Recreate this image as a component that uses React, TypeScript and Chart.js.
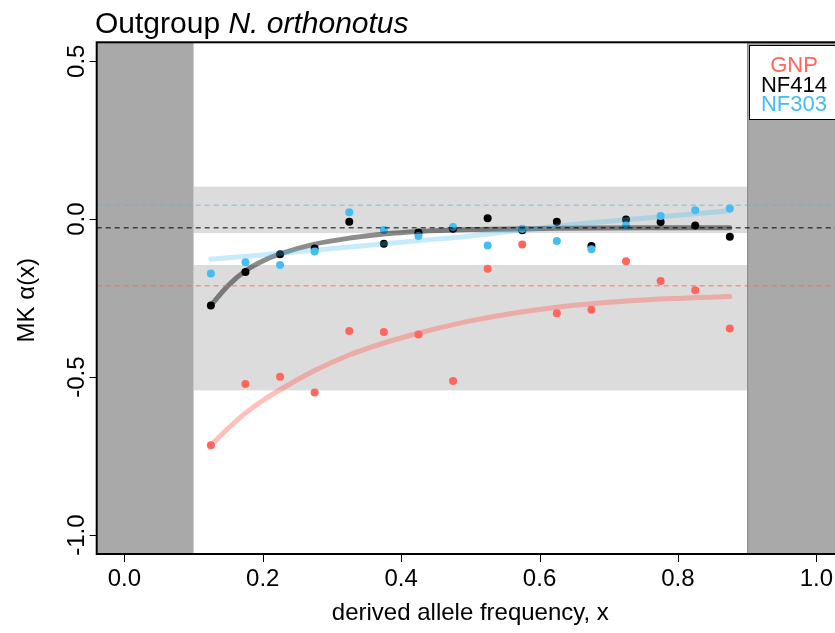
import React, { useEffect, useRef } from "react";
import { Chart, registerables } from "chart.js";

Chart.register(...registerables);

// ---------- data ----------
const xFreq = [0.125, 0.175, 0.225, 0.275, 0.325, 0.375, 0.425, 0.475, 0.525, 0.575, 0.625, 0.675, 0.725, 0.775, 0.825, 0.875];
const gnpAlpha = [-0.716, -0.522, -0.499, -0.549, -0.354, -0.357, -0.365, -0.512, -0.157, -0.080, -0.298, -0.287, -0.133, -0.196, -0.225, -0.346];
const nf414Alpha = [-0.273, -0.167, -0.111, -0.093, -0.008, -0.078, -0.042, -0.030, 0.003, -0.035, -0.008, -0.085, -0.001, -0.009, -0.020, -0.056];
const nf303Alpha = [-0.172, -0.136, -0.145, -0.102, 0.022, -0.034, -0.053, -0.025, -0.083, -0.030, -0.069, -0.095, -0.020, 0.010, 0.028, 0.034];

const fitX = [0.125, 0.15, 0.175, 0.2, 0.225, 0.275, 0.325, 0.375, 0.425, 0.5, 0.625, 0.75, 0.875];
const gnpFit = [-0.716, -0.662, -0.614, -0.574, -0.540, -0.479, -0.430, -0.392, -0.361, -0.322, -0.279, -0.256, -0.245];
const nf414Fit = [-0.273, -0.210, -0.163, -0.132, -0.110, -0.079, -0.060, -0.047, -0.039, -0.033, -0.029, -0.027, -0.027];
const nf303Fit = [-0.127, -0.122, -0.118, -0.113, -0.108, -0.098, -0.088, -0.078, -0.068, -0.053, -0.022, 0.003, 0.027];

// asymptotic alpha (dashed lines)
const gnpAsym = -0.211;
const nf414Asym = -0.027;
const nf303Asym = 0.044;

// confidence bands [low, high]
const bandLow = [-0.044, -0.542];
const bandHigh = [0.103, -0.145];

// excluded frequency ranges
const cutLow = 0.1;
const cutHigh = 0.9;

const xTicks = [0, 0.2, 0.4, 0.6, 0.8, 1.0];
const xTickLabels = ["0.0", "0.2", "0.4", "0.6", "0.8", "1.0"];
const yTicks = [0.5, 0.0, -0.5, -1.0];
const yTickLabels = ["0.5", "0.0", "-0.5", "-1.0"];

const seriesNames = ["GNP", "NF414", "NF303"];

const X_MIN = -0.04;
const X_MAX = 1.04;
const Y_MIN = -1.06;
const Y_MAX = 0.56;

// ---------- styles ----------
const FONT = "'Liberation Sans', Arial, Helvetica, sans-serif";
const RED = "#ff665e";
const BLACK = "#000000";
const BLUE = "#45bdf3";
const seriesColors = [RED, BLACK, BLUE];

const pts = (xs: number[], ys: number[]) => xs.map((x, i) => ({ x, y: ys[i] }));

const decorPlugin = {
  id: "decor",
  beforeDatasetsDraw(chart: any) {
    const { ctx, chartArea: ca, scales } = chart;
    const x = scales.x;
    const y = scales.y;
    ctx.save();
    ctx.beginPath();
    ctx.rect(ca.left, ca.top, ca.right - ca.left, ca.bottom - ca.top);
    ctx.clip();
    // light bands
    ctx.fillStyle = "#dcdcdc";
    for (let i = 0; i < bandLow.length; i++) {
      const x0 = x.getPixelForValue(cutLow);
      const x1 = x.getPixelForValue(cutHigh);
      const y0 = y.getPixelForValue(bandHigh[i]);
      const y1 = y.getPixelForValue(bandLow[i]);
      ctx.fillRect(x0, y0, x1 - x0, y1 - y0);
    }
    // excluded regions
    ctx.fillStyle = "#a9a9a9";
    ctx.strokeStyle = "#8a8a8a";
    ctx.lineWidth = 1;
    const l0 = x.getPixelForValue(X_MIN);
    const l1 = x.getPixelForValue(cutLow);
    const r0 = x.getPixelForValue(cutHigh);
    const r1 = x.getPixelForValue(X_MAX);
    ctx.fillRect(l0, ca.top, l1 - l0, ca.bottom - ca.top);
    ctx.fillRect(r0, ca.top, r1 - r0, ca.bottom - ca.top);
    ctx.beginPath();
    ctx.moveTo(r0 + 0.5, ca.top);
    ctx.lineTo(r0 + 0.5, ca.bottom);
    ctx.stroke();
    ctx.restore();
  },
  afterDraw(chart: any) {
    const { ctx, chartArea: ca, scales } = chart;
    const x = scales.x;
    const y = scales.y;
    ctx.save();
    // box
    ctx.strokeStyle = "#000";
    ctx.lineWidth = 2;
    ctx.strokeRect(ca.left, ca.top, ca.right - ca.left, ca.bottom - ca.top);

    // ticks
    ctx.lineWidth = 1;
    ctx.fillStyle = "#000";
    ctx.font = `24px ${FONT}`;
    ctx.textAlign = "center";
    ctx.textBaseline = "alphabetic";
    xTicks.forEach((v, i) => {
      const px = Math.round(x.getPixelForValue(v)) + 0.5;
      ctx.beginPath();
      ctx.moveTo(px, ca.bottom);
      ctx.lineTo(px, ca.bottom + 8);
      ctx.stroke();
      ctx.fillText(xTickLabels[i], x.getPixelForValue(v), 586);
    });
    yTicks.forEach((v, i) => {
      const py = Math.round(y.getPixelForValue(v)) + 0.5;
      ctx.beginPath();
      ctx.moveTo(ca.left, py);
      ctx.lineTo(ca.left - 7, py);
      ctx.stroke();
      ctx.save();
      ctx.translate(83.5, y.getPixelForValue(v));
      ctx.rotate(-Math.PI / 2);
      ctx.fillText(yTickLabels[i], 0, 0);
      ctx.restore();
    });

    // axis titles
    ctx.fillText("derived allele frequency, x", (ca.left + ca.right) / 2, 620);
    ctx.save();
    ctx.translate(34, (ca.top + ca.bottom) / 2 + 2);
    ctx.rotate(-Math.PI / 2);
    ctx.fillText("MK α(x)", 0, 0);
    ctx.restore();

    // title
    ctx.textAlign = "left";
    ctx.font = `30px ${FONT}`;
    const part1 = "Outgroup ";
    ctx.fillText(part1, 95, 33);
    const w1 = ctx.measureText(part1).width;
    ctx.font = `italic 30px ${FONT}`;
    ctx.fillText("N. orthonotus", 95 + w1, 33);

    // legend
    ctx.fillStyle = "#fff";
    ctx.fillRect(749, 45, 92, 74);
    ctx.strokeStyle = "#000";
    ctx.lineWidth = 1;
    ctx.strokeRect(749.5, 45.5, 92, 74);
    ctx.font = `22px ${FONT}`;
    ctx.textAlign = "center";
    const baselines = [71.5, 91.5, 111];
    seriesNames.forEach((n, i) => {
      ctx.fillStyle = seriesColors[i];
      ctx.fillText(n, 794, baselines[i]);
    });
    ctx.restore();
  },
};

export default function App() {
  const ref = useRef<HTMLCanvasElement | null>(null);
  useEffect(() => {
    if (!ref.current) return;
    const dashed = (v: number, color: string, order: number) => ({
      data: [{ x: X_MIN, y: v }, { x: X_MAX, y: v }],
      showLine: true,
      borderColor: color,
      borderWidth: 1.5,
      borderDash: [5, 4],
      pointRadius: 0,
      order,
    });
    const fit = (ys: number[], color: string, order: number) => ({
      data: pts(fitX, ys),
      showLine: true,
      borderColor: color,
      borderWidth: 5,
      borderCapStyle: "round",
      cubicInterpolationMode: "monotone",
      pointRadius: 0,
      order,
    });
    const scatter = (ys: number[], color: string, order: number) => ({
      data: pts(xFreq, ys),
      showLine: false,
      pointRadius: 4,
      pointBorderWidth: 0,
      backgroundColor: color,
      borderColor: color,
      order,
    });
    const chart = new Chart(ref.current, {
      type: "scatter",
      data: {
        datasets: [
          dashed(nf414Asym, "rgba(0,0,0,0.65)", 1),
          dashed(gnpAsym, "rgba(255,102,94,0.6)", 2),
          dashed(nf303Asym, "rgba(69,189,243,0.55)", 3),
          fit(nf303Fit, "rgba(69,189,243,0.3)", 10),
          fit(nf414Fit, "rgba(0,0,0,0.45)", 11),
          fit(gnpFit, "rgba(255,102,94,0.42)", 12),
          scatter(nf303Alpha, BLUE, 20),
          scatter(nf414Alpha, BLACK, 21),
          scatter(gnpAlpha, RED, 22),
        ] as any,
      },
      options: {
        responsive: false,
        animation: false,
        devicePixelRatio: 1,
        layout: { padding: { left: 96.7, top: 42.3, right: 16, bottom: 79 } },
        scales: {
          x: { type: "linear", min: X_MIN, max: X_MAX, display: false },
          y: { type: "linear", min: Y_MIN, max: Y_MAX, display: false },
        },
        plugins: { legend: { display: false }, tooltip: { enabled: false } },
        events: [],
      },
      plugins: [decorPlugin as any],
    });
    return () => chart.destroy();
  }, []);
  return (
    <div style={{ position: "fixed", left: 0, top: 0, width: 835, height: 633, overflow: "hidden", background: "#fff" }}>
      <canvas ref={ref} width={860} height={633} style={{ width: 860, height: 633, display: "block" }} />
    </div>
  );
}
